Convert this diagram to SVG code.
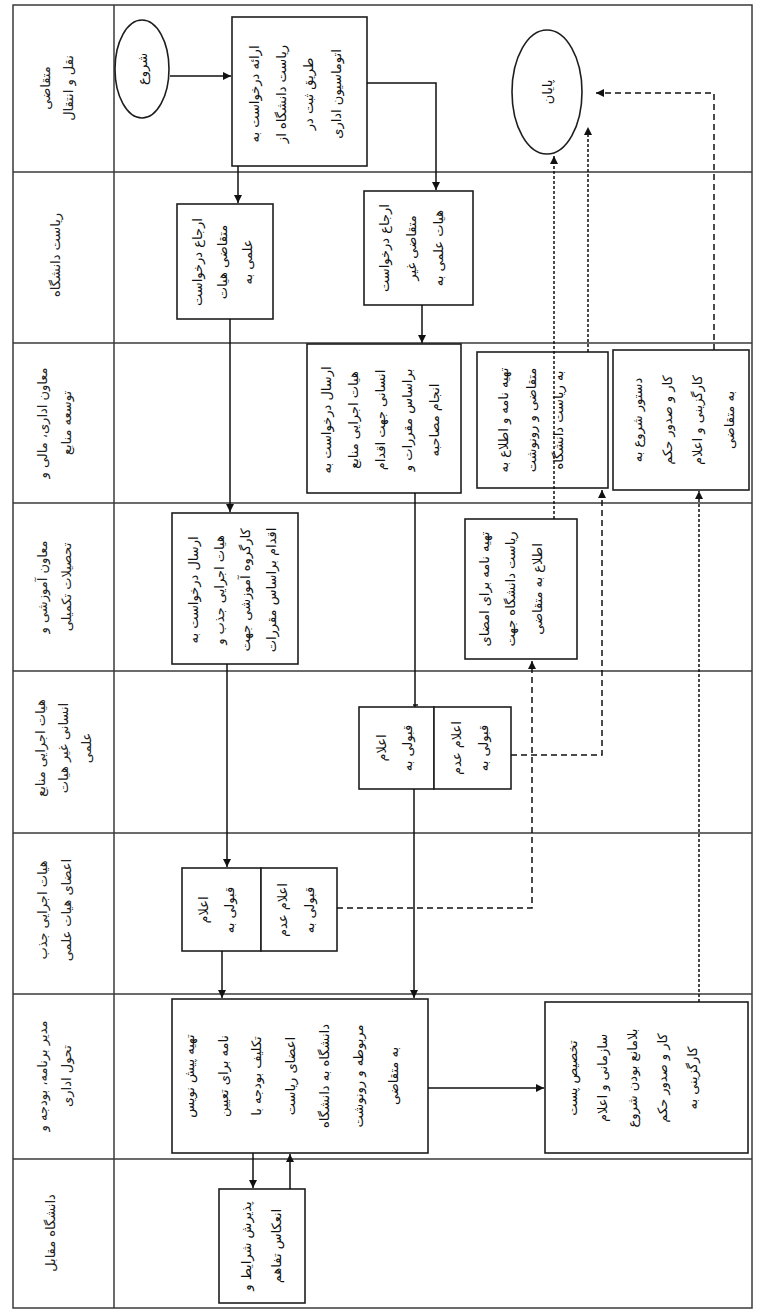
<svg xmlns="http://www.w3.org/2000/svg" width="759" height="1313" viewBox="0 0 759 1313">
<style>
.lane{stroke:#3a3a3a;stroke-width:1.5;fill:none}
.box{fill:#fff;stroke:#1e1e1e;stroke-width:1.6}
.t{font-family:"DejaVu Sans",sans-serif;font-size:13px;fill:#111;text-anchor:middle;dominant-baseline:central}
.lt{font-family:"DejaVu Sans",sans-serif;font-size:13px;fill:#222;text-anchor:middle;dominant-baseline:central}
.c{stroke:#111;stroke-width:1.5;fill:none}
.dash{stroke-dasharray:6,4}
.dot{stroke-dasharray:3,2}
</style>
<defs>
<marker id="ah" viewBox="0 0 10 10" refX="10" refY="5" markerWidth="9" markerHeight="8" orient="auto" markerUnits="userSpaceOnUse"><path d="M0,0 L10,5 L0,10 z" fill="#111"/></marker>
</defs>
<rect width="759" height="1313" fill="#fff"/>
<g id="lanes">
<rect class="lane" x="13" y="5" width="739" height="1303"/>
<line class="lane" x1="114" y1="5" x2="114" y2="1308"/>
<line class="lane" x1="13" y1="172" x2="752" y2="172"/>
<line class="lane" x1="13" y1="343" x2="752" y2="343"/>
<line class="lane" x1="13" y1="503" x2="752" y2="503"/>
<line class="lane" x1="13" y1="671" x2="752" y2="671"/>
<line class="lane" x1="13" y1="833" x2="752" y2="833"/>
<line class="lane" x1="13" y1="994" x2="752" y2="994"/>
<line class="lane" x1="13" y1="1159" x2="752" y2="1159"/>
<text class="lt" transform="translate(45,88) rotate(-90)">متقاضی</text>
<text class="lt" transform="translate(68,88) rotate(-90)">نقل و انتقال</text>
<text class="lt" transform="translate(55,255) rotate(-90)">ریاست دانشگاه</text>
<text class="lt" transform="translate(42,423) rotate(-90)">معاون اداری، مالی و</text>
<text class="lt" transform="translate(66,423) rotate(-90)">توسعه منابع</text>
<text class="lt" transform="translate(42,587) rotate(-90)">معاون آموزشی و</text>
<text class="lt" transform="translate(66,587) rotate(-90)">تحصیلات تکمیلی</text>
<text class="lt" transform="translate(40,748) rotate(-90)">هیات اجرایی منابع</text>
<text class="lt" transform="translate(63,748) rotate(-90)">انسانی غیر هیات</text>
<text class="lt" transform="translate(86,748) rotate(-90)">علمی</text>
<text class="lt" transform="translate(42,910) rotate(-90)">هیات اجرایی جذب</text>
<text class="lt" transform="translate(66,910) rotate(-90)">اعضای هیات علمی</text>
<text class="lt" transform="translate(42,1076) rotate(-90)">مدیر برنامه، بودجه و</text>
<text class="lt" transform="translate(66,1076) rotate(-90)">تحول اداری</text>
<text class="lt" transform="translate(50,1233) rotate(-90)">دانشگاه مقابل</text>
</g>
<g id="start">
<ellipse class="box" cx="142" cy="69" rx="27" ry="49"/>
<text class="t" transform="translate(142,69) rotate(-90)">شروع</text>
</g>
<g id="n1">
<rect class="box" x="232" y="17" width="135" height="149"/>
<text class="t" transform="translate(254,94) rotate(-90)">ارائه درخواست به</text>
<text class="t" transform="translate(281,94) rotate(-90)">ریاست دانشگاه از</text>
<text class="t" transform="translate(308,94) rotate(-90)">طریق ثبت در</text>
<text class="t" transform="translate(336,94) rotate(-90)">اتوماسیون اداری</text>
</g>
<g id="end">
<ellipse class="box" cx="547" cy="92" rx="35" ry="62"/>
<text class="t" transform="translate(547,92) rotate(-90)">پایان</text>
</g>
<g id="n2a">
<rect class="box" x="177" y="204" width="96" height="115"/>
<text class="t" transform="translate(197,262) rotate(-90)">ارجاع درخواست</text>
<text class="t" transform="translate(222,262) rotate(-90)">متقاضی هیات</text>
<text class="t" transform="translate(247,262) rotate(-90)">علمی به</text>
</g>
<g id="n2b">
<rect class="box" x="364" y="191" width="109" height="114"/>
<text class="t" transform="translate(384,248) rotate(-90)">ارجاع درخواست</text>
<text class="t" transform="translate(411,248) rotate(-90)">متقاضی غیر</text>
<text class="t" transform="translate(438,248) rotate(-90)">هیات علمی به</text>
</g>
<g id="n3a">
<rect class="box" x="307" y="344" width="154" height="149"/>
<text class="t" transform="translate(326,420) rotate(-90)">ارسال درخواست به</text>
<text class="t" transform="translate(353,420) rotate(-90)">هیات اجرایی منابع</text>
<text class="t" transform="translate(380,420) rotate(-90)">انسانی جهت اقدام</text>
<text class="t" transform="translate(407,420) rotate(-90)">براساس مقررات و</text>
<text class="t" transform="translate(434,420) rotate(-90)">انجام مصاحبه</text>
</g>
<g id="n3b">
<rect class="box" x="477" y="352" width="131" height="136"/>
<text class="t" transform="translate(503,420) rotate(-90)">تهیه نامه و اطلاع به</text>
<text class="t" transform="translate(531,420) rotate(-90)">متقاضی و رونوشت</text>
<text class="t" transform="translate(558,420) rotate(-90)">به ریاست دانشگاه</text>
</g>
<g id="n3c">
<rect class="box" x="613" y="350" width="136" height="140"/>
<text class="t" transform="translate(637,420) rotate(-90)">دستور شروع به</text>
<text class="t" transform="translate(667,420) rotate(-90)">کار و صدور حکم</text>
<text class="t" transform="translate(697,420) rotate(-90)">کارگزینی و اعلام</text>
<text class="t" transform="translate(729,420) rotate(-90)">به متقاضی</text>
</g>
<g id="n4a">
<rect class="box" x="172" y="513" width="126" height="151"/>
<text class="t" transform="translate(193,590) rotate(-90)">ارسال درخواست به</text>
<text class="t" transform="translate(219,590) rotate(-90)">هیات اجرایی جذب و</text>
<text class="t" transform="translate(245,590) rotate(-90)">کارگروه آموزشی جهت</text>
<text class="t" transform="translate(271,590) rotate(-90)">اقدام براساس مقررات</text>
</g>
<g id="n4b">
<rect class="box" x="465" y="519" width="112" height="140"/>
<text class="t" transform="translate(484,589) rotate(-90)">تهیه نامه برای امضای</text>
<text class="t" transform="translate(510,589) rotate(-90)">ریاست دانشگاه جهت</text>
<text class="t" transform="translate(537,589) rotate(-90)">اطلاع به متقاضی</text>
</g>
<g id="n5a">
<rect class="box" x="359" y="707" width="75" height="82"/>
<text class="t" transform="translate(381,748) rotate(-90)">اعلام</text>
<text class="t" transform="translate(407,748) rotate(-90)">قبولی به</text>
</g>
<g id="n5b">
<rect class="box" x="434" y="707" width="77" height="82"/>
<text class="t" transform="translate(456,748) rotate(-90)">اعلام عدم</text>
<text class="t" transform="translate(483,748) rotate(-90)">قبولی به</text>
</g>
<g id="n6a">
<rect class="box" x="182" y="868" width="79" height="83"/>
<text class="t" transform="translate(203,910) rotate(-90)">اعلام</text>
<text class="t" transform="translate(229,910) rotate(-90)">قبولی به</text>
</g>
<g id="n6b">
<rect class="box" x="261" y="868" width="76" height="83"/>
<text class="t" transform="translate(282,910) rotate(-90)">اعلام عدم</text>
<text class="t" transform="translate(309,910) rotate(-90)">قبولی به</text>
</g>
<g id="n7a">
<rect class="box" x="172" y="999" width="256" height="154"/>
<text class="t" transform="translate(189,1076) rotate(-90)">تهیه پیش نویس</text>
<text class="t" transform="translate(223,1076) rotate(-90)">نامه برای تعیین</text>
<text class="t" transform="translate(256,1076) rotate(-90)">تکلیف بودجه با</text>
<text class="t" transform="translate(290,1076) rotate(-90)">اعضای ریاست</text>
<text class="t" transform="translate(324,1076) rotate(-90)">دانشگاه به دانشگاه</text>
<text class="t" transform="translate(358,1076) rotate(-90)">مربوطه و رونوشت</text>
<text class="t" transform="translate(393,1076) rotate(-90)">به متقاضی</text>
</g>
<g id="n7b">
<rect class="box" x="545" y="1002" width="203" height="151"/>
<text class="t" transform="translate(572,1078) rotate(-90)">تخصیص پست</text>
<text class="t" transform="translate(602,1078) rotate(-90)">سازمانی و اعلام</text>
<text class="t" transform="translate(632,1078) rotate(-90)">بلامانع بودن شروع</text>
<text class="t" transform="translate(662,1078) rotate(-90)">کار و صدور حکم</text>
<text class="t" transform="translate(692,1078) rotate(-90)">کارگزینی به</text>
</g>
<g id="n8">
<rect class="box" x="219" y="1189" width="86" height="114"/>
<text class="t" transform="translate(246,1246) rotate(-90)">پذیرش شرایط و</text>
<text class="t" transform="translate(276,1246) rotate(-90)">انعکاس تفاهم</text>
</g>
<g id="connectors">
<path class="c" d="M170,76 H231" marker-end="url(#ah)"/>
<path class="c" d="M238,166 V203" marker-end="url(#ah)"/>
<path class="c" d="M367,83 H436 V190" marker-end="url(#ah)"/>
<path class="c" d="M422,305 V343" marker-end="url(#ah)"/>
<path class="c" d="M230,319 V512" marker-end="url(#ah)"/>
<path class="c" d="M415,493 V707"/>
<path class="c" d="M413,705 H418" stroke-width="3"/>
<path class="c" d="M227,664 V867" marker-end="url(#ah)"/>
<path class="c" d="M414,789 V998" marker-end="url(#ah)"/>
<path class="c" d="M222,951 V998" marker-end="url(#ah)"/>
<path class="c" d="M428,1088 H544" marker-end="url(#ah)"/>
<path class="c" d="M253,1153 V1188" marker-end="url(#ah)"/>
<path class="c" d="M290,1189 V1154" marker-end="url(#ah)"/>
<path class="c dash" d="M337,908 H532 V661" marker-end="url(#ah)"/>
<path class="c dash" d="M511,755 H602 V490" marker-end="url(#ah)"/>
<path class="c dot" d="M699,1002 V491" marker-end="url(#ah)"/>
<path class="c dot" d="M554,519 V156" marker-end="url(#ah)"/>
<path class="c dot" d="M588,352 V127" marker-end="url(#ah)"/>
<path class="c dash" d="M714,350 V93 H596" marker-end="url(#ah)"/>
</g>
</svg>
